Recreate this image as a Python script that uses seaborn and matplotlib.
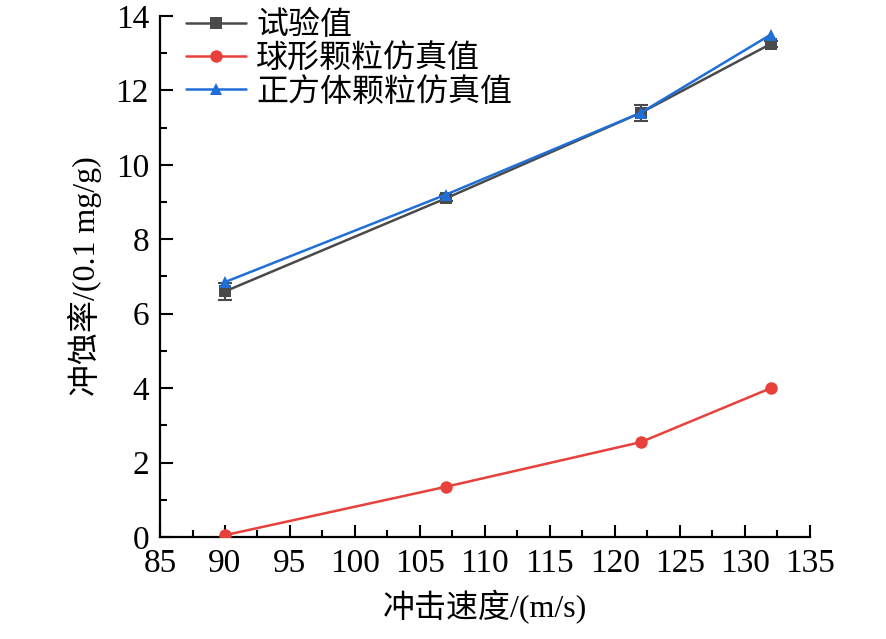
import numpy as np
import pandas as pd
import matplotlib
matplotlib.use("Agg")
import matplotlib.pyplot as plt
import seaborn as sns
from matplotlib.ticker import MultipleLocator, AutoMinorLocator

# data
speed = [90, 107, 122, 132]
test_val = [6.6, 9.1, 11.4, 13.25]
test_err = [0.22, 0.08, 0.22, 0.08]
sphere_val = [0.05, 1.35, 2.55, 4.0]
cube_val = [6.85, 9.2, 11.4, 13.5]
labels = ["试验值", "球形颗粒仿真值", "正方体颗粒仿真值"]

sns.set_style("ticks", {"axes.edgecolor": "black", "text.color": "black",
                        "axes.labelcolor": "black", "xtick.color": "black",
                        "ytick.color": "black"})
plt.rcParams['font.family'] = ['Liberation Serif', 'Noto Sans CJK SC']

df = pd.DataFrame({"speed": speed * 3,
                   "rate": test_val + sphere_val + cube_val,
                   "kind": [labels[0]] * 4 + [labels[1]] * 4 + [labels[2]] * 4})

fig = plt.figure(figsize=(8.86, 6.39), dpi=100)
ax = fig.add_axes([0.1806, 0.1596, 0.7334, 0.8154])

colors = {labels[0]: "#4a4a4a", labels[1]: "#e8413c", labels[2]: "#1f6fd6"}
markers = {labels[0]: "s", labels[1]: "o", labels[2]: "^"}

ax.errorbar(speed, test_val, yerr=test_err, fmt="none", ecolor="#4a4a4a",
            elinewidth=1.5, capsize=5, capthick=1.5, zorder=2)
sns.lineplot(data=df, x="speed", y="rate", hue="kind", style="kind",
             palette=colors, markers=markers, dashes=False, linewidth=1.8,
             markersize=9, markeredgewidth=0, ax=ax, zorder=3)

ax.set_xlim(85, 135)
ax.set_ylim(0, 14)
ax.xaxis.set_major_locator(MultipleLocator(5))
ax.xaxis.set_minor_locator(AutoMinorLocator(2))
ax.yaxis.set_major_locator(MultipleLocator(2))
ax.yaxis.set_minor_locator(AutoMinorLocator(2))
ax.tick_params(which="major", direction="in", length=9, width=1.5, labelsize=24)
ax.tick_params(axis="x", which="major", pad=8)
ax.tick_params(axis="y", which="major", pad=8)
ax.tick_params(which="minor", direction="in", length=5, width=1.5)
for s in ["left", "bottom"]:
    ax.spines[s].set_linewidth(1.6)
sns.despine(ax=ax)

ax.set_xlabel("冲击速度/(m/s)", fontsize=23, labelpad=8)
ax.set_ylabel("冲蚀率/(0.1 mg/g)", fontsize=23, labelpad=10)

leg = ax.legend(loc="upper left", frameon=False, fontsize=23, handlelength=1.9,
                handletextpad=0.3, labelspacing=0.1, borderaxespad=0.1,
                bbox_to_anchor=(0.015, 1.04))

fig.savefig("out.png", dpi=100)
